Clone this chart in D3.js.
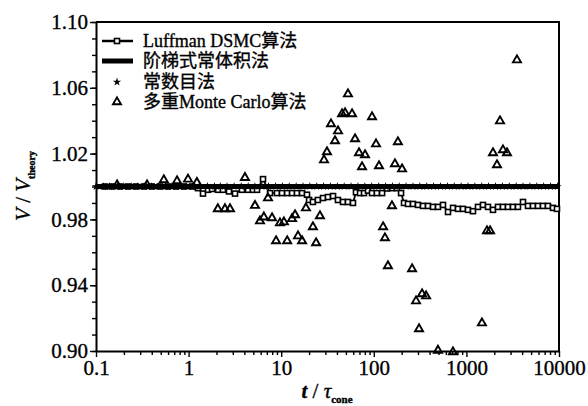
<!DOCTYPE html>
<html>
<head>
<meta charset="utf-8">
<script src="https://cdn.jsdelivr.net/npm/d3@7"></script>
<style>
  body { margin: 0; background: #fff; }
  text { font-family: "Liberation Serif", "Times New Roman", serif; fill: #000; stroke: #000; stroke-width: 0.35px; }
  .cjk { font-family: "Liberation Serif", "Noto Sans CJK SC", serif; }
</style>
</head>
<body>
<div id="chart"></div>
<script>
// ---- data ----
const xTicks = [0.1, 1, 10, 100, 1000, 10000];
const yTicks = [0.90, 0.94, 0.98, 1.02, 1.06, 1.10];

// 阶梯式常体积法 (thick line)
const stepT = [0.1, 10000];
const stepV = [1.0, 1.0];

// 常数目法 (stars, sit on the thick line)
const starT = [0.1, 0.12, 0.14, 0.17, 0.2, 0.24, 0.28, 0.33, 0.4, 0.47, 0.56, 0.66, 0.8, 0.94,
  1.1, 1.3, 1.6, 1.9, 2.2, 2.6, 3.1, 3.7, 4.4, 5.2, 6.2, 7.3, 8.7, 10.3, 12.2, 14.5, 17.2,
  20.4, 24.2, 28.7, 34, 40.4, 47.9, 56.8, 67.4, 80, 94.9, 113, 134, 159, 188, 223, 265, 314,
  373, 442, 525, 623, 739, 877, 1040, 1234, 1465, 1738, 2062, 2447, 2904, 3445, 4088, 4851,
  5757, 6831, 8106, 9619];
const starV = 1.0;

// Luffman DSMC算法 (line + open squares)
const lufT = [0.125, 0.149, 0.182, 0.222, 0.27, 0.33, 0.40, 0.49, 0.60, 0.73, 0.89, 1.09, 1.26,
  1.43, 1.62, 1.79, 2.08, 2.35, 2.73, 3.17, 3.77, 4.38, 4.96, 5.48, 6.36, 7.57, 9.0, 10.2,
  11.6, 13.1, 14.8, 16.8, 19.0, 20.0, 22.0, 24.9, 28.3, 32.0, 36.3, 41.0, 46.5, 52.6, 59.6,
  64.2, 71.0, 78.4, 86.5, 95.6, 108, 123, 139, 157, 178, 197, 212, 234, 265, 300, 340, 385,
  436, 494, 559, 633, 717, 811, 919, 1040, 1178, 1334, 1511, 1710, 1937, 2193, 2483, 2812,
  3184, 3606, 4083, 4624, 5236, 5929, 6714, 7603, 8610, 9510];
const lufV = [1.000, 1.000, 1.000, 1.000, 1.000, 1.000, 1.000, 1.000, 1.000, 1.000, 1.000, 1.000, 0.999,
  0.9957, 0.998, 0.9985, 0.998, 0.998, 0.997, 0.9957, 0.998, 0.998, 0.998, 0.998, 1.0045, 0.996, 0.996, 0.996,
  0.996, 0.996, 0.996, 0.996, 0.995, 0.9918, 0.9906, 0.9918, 0.993, 0.9936, 0.9942, 0.9918, 0.9906, 0.9906, 0.990,
  0.9965, 0.996, 0.996, 0.9975, 0.996, 0.996, 0.996, 0.9988, 0.999, 0.999, 0.996, 0.990, 0.9894, 0.9894, 0.9888, 0.9882, 0.9882,
  0.9876, 0.9876, 0.9888, 0.9845, 0.987, 0.9864, 0.9864, 0.9858, 0.985, 0.9876, 0.9888, 0.9876, 0.9858, 0.9876, 0.9876, 0.9876,
  0.9876, 0.9876, 0.9906, 0.9882, 0.9882, 0.9882, 0.9882, 0.9882, 0.987, 0.9864];

// 多重Monte Carlo算法 (open triangles)
const mcT = [0.169, 0.356, 0.54, 0.75, 0.985, 1.23, 4.06, 2.07, 2.47, 2.80, 5.21, 7.2, 5.9, 6.5,
  7.96, 9.7, 10.7, 13.1, 14.1, 18.5, 22.0, 26.2, 8.8, 11.6, 15.2, 16.8, 23.8, 29.0, 31.2, 34.5,
  41.1, 38.1, 45.4, 48.9, 58.2, 52.6, 62.7, 69.2, 80.4, 74.6, 95.7, 105.7, 113.8, 169, 202, 182,
  157, 126, 132, 142, 259, 332, 367, 286, 308, 493, 716, 3516, 2307, 1937, 2483, 2742, 2138,
  1667, 1800, 1472];
const mcV = [1.0015, 1.0015, 1.0046, 1.004, 1.005, 1.003, 1.006, 0.987, 0.987, 0.987, 0.989, 0.9936, 0.9796, 0.982,
  0.9815, 0.9784, 0.979, 0.981, 0.9833, 0.9875, 0.976, 0.9827, 0.9675, 0.9675, 0.9705, 0.9675, 0.9663, 1.0167, 1.0216, 1.0386,
  1.0343, 1.0283, 1.0447, 1.0453, 1.0447, 1.0568, 1.0295, 1.021, 1.0198, 1.0125, 1.0429, 1.0264, 1.0131, 1.0143, 1.0112, 1.0277,
  0.9888, 0.976, 0.9693, 0.9523, 0.9505, 0.9353, 0.934, 0.931, 0.914, 0.901, 0.900, 1.0775, 1.0404, 1.021, 1.0228, 1.021, 1.0137,
  0.9736, 0.9736, 0.9176];

const legendNames = ["Luffman DSMC算法", "阶梯式常体积法", "常数目法", "多重Monte Carlo算法"];

// ---- layout ----
const W = 588, H = 406;
const svg = d3.select("#chart").append("svg")
  .attr("width", W).attr("height", H);

const x = d3.scaleLog().domain([0.1, 10000]).range([96, 559]);
const y = d3.scaleLinear().domain([0.90, 1.10]).range([351, 22]);

// frame (top + right)
svg.append("path")
  .attr("d", `M${x(0.1)},${y(1.1)}H${x(10000)}V${y(0.9)}`)
  .attr("fill", "none").attr("stroke", "#000").attr("stroke-width", 2);

// y axis: minor ticks every 0.01, labelled majors every 0.04
const yMinor = d3.range(90, 111).map(d => d / 100);
svg.append("g")
  .attr("transform", `translate(${x(0.1)},0)`)
  .call(d3.axisLeft(y).tickValues(yMinor).tickSize(4).tickFormat(""))
  .call(g => g.select(".domain").remove());
svg.append("g")
  .attr("transform", `translate(${x(0.1)},0)`)
  .call(d3.axisLeft(y).tickValues(yTicks).tickSize(6).tickSizeOuter(0).tickPadding(2)
    .tickFormat(d3.format(".2f")))
  .call(g => g.select(".domain").attr("stroke-width", 2))
  .call(g => g.selectAll("text").style("font-size", "21px"));

// x axis: log minor ticks + decades
const xMinor = [];
[0.1, 1, 10, 100, 1000].forEach(dec => [2, 3, 4, 5, 6, 7, 8, 9].forEach(m => xMinor.push(dec * m)));
svg.append("g")
  .attr("transform", `translate(0,${y(0.9)})`)
  .call(d3.axisBottom(x).tickValues(xMinor).tickSize(4).tickFormat(""))
  .call(g => g.select(".domain").remove());
svg.append("g")
  .attr("transform", `translate(0,${y(0.9)})`)
  .call(d3.axisBottom(x).tickValues(xTicks).tickSize(6).tickSizeOuter(0).tickPadding(3)
    .tickFormat(d => d < 1 ? "0.1" : d3.format("d")(d)))
  .call(g => g.select(".domain").attr("stroke-width", 2))
  .call(g => g.selectAll("text").style("font-size", "21px"));

svg.selectAll(".tick line").attr("stroke-width", 1.4);

const plot = svg.append("g");

// Luffman line + squares
const lufData = lufT.map((t, i) => [t, lufV[i]]);
plot.append("path")
  .datum(lufData)
  .attr("fill", "none").attr("stroke", "#000").attr("stroke-width", 1.8)
  .attr("d", d3.line().x(d => x(d[0])).y(d => y(d[1])));
plot.selectAll(".sq").data(lufData).enter().append("rect")
  .attr("x", d => x(d[0]) - 2.5).attr("y", d => y(d[1]) - 2.5)
  .attr("width", 5).attr("height", 5)
  .attr("fill", "#fff").attr("stroke", "#000").attr("stroke-width", 1.6);

// thick step-volume line
plot.append("path")
  .datum(stepT.map((t, i) => [t, stepV[i]]))
  .attr("fill", "none").attr("stroke", "#000").attr("stroke-width", 5)
  .attr("d", d3.line().x(d => x(d[0])).y(d => y(d[1])));

// stars
const star = d3.symbol(d3.symbolStar, 22);
plot.selectAll(".star").data(starT).enter().append("path")
  .attr("transform", d => `translate(${x(d)},${y(starV)})`)
  .attr("d", star).attr("fill", "#000");

// triangles
const tri = d3.symbol(d3.symbolTriangle, 28);
plot.selectAll(".tri").data(mcT.map((t, i) => [t, mcV[i]])).enter().append("path")
  .attr("transform", d => `translate(${x(d[0])},${y(d[1]) + 1})`)
  .attr("d", tri).attr("fill", "none").attr("stroke", "#000").attr("stroke-width", 1.9);

// ---- legend ----
const lg = svg.append("g");
const rowY = [41, 61, 82, 102];
lg.append("line").attr("x1", 102).attr("x2", 133).attr("y1", rowY[0]).attr("y2", rowY[0])
  .attr("stroke", "#000").attr("stroke-width", 2.5);
lg.append("rect").attr("x", 114.5).attr("y", rowY[0] - 2.5).attr("width", 5).attr("height", 5)
  .attr("fill", "#fff").attr("stroke", "#000").attr("stroke-width", 1.6);
lg.append("line").attr("x1", 102).attr("x2", 133).attr("y1", rowY[1]).attr("y2", rowY[1])
  .attr("stroke", "#000").attr("stroke-width", 5);
lg.append("path").attr("transform", `translate(117,${rowY[2]})`).attr("d", star).attr("fill", "#000");
lg.append("path").attr("transform", `translate(117,${rowY[3]})`).attr("d", tri)
  .attr("fill", "none").attr("stroke", "#000").attr("stroke-width", 1.9);
lg.selectAll(".lt").data(legendNames).enter().append("text")
  .attr("class", "cjk")
  .attr("x", 143).attr("y", (d, i) => rowY[i]).attr("dy", "0.35em")
  .style("font-size", "18px")
  .text(d => d);

// ---- axis titles ----
const xt = svg.append("text")
  .attr("x", 327).attr("y", 398).attr("text-anchor", "middle")
  .style("font-size", "21px");
xt.append("tspan").style("font-style", "italic").style("font-weight", "bold").text("t");
xt.append("tspan").text(" / ");
xt.append("tspan").style("font-style", "italic").text("τ");
xt.append("tspan").attr("dy", 5).style("font-size", "11px").style("font-weight", "bold").text("cone");

const yt = svg.append("text")
  .attr("transform", "translate(30,186) rotate(-90)")
  .attr("text-anchor", "middle")
  .style("font-size", "21px");
yt.append("tspan").style("font-style", "italic").text("V");
yt.append("tspan").text(" / ");
yt.append("tspan").style("font-style", "italic").text("V");
yt.append("tspan").attr("dy", 5).style("font-size", "10px").style("font-weight", "bold").text("theory");
</script>
</body>
</html>
